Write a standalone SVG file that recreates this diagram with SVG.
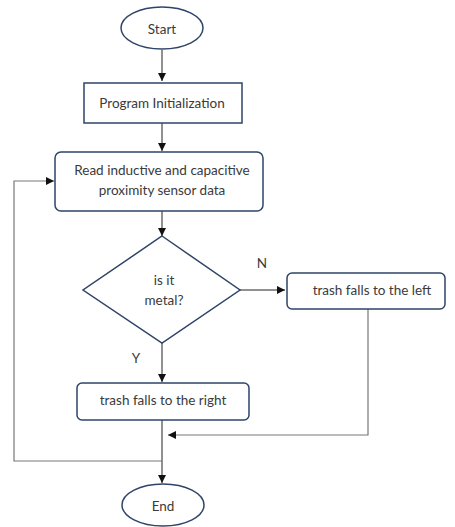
<svg xmlns="http://www.w3.org/2000/svg" width="455" height="527" viewBox="0 0 455 527">
<style>
.shape{fill:#fff;stroke:#2e4468;stroke-width:1.5}
.t{font-family:"Lato","Liberation Sans",sans-serif;font-size:13.5px;fill:#3a3a3a;text-anchor:middle;dominant-baseline:central}
.c{fill:none;stroke:#222;stroke-width:1}
.g{fill:none;stroke:#777;stroke-width:1.2}
</style>
<defs>
<marker id="ah" markerWidth="10" markerHeight="10" refX="9" refY="5" orient="auto" markerUnits="userSpaceOnUse">
<path d="M1,1 L9,5 L1,9 Z" fill="#111"/>
</marker>
</defs>
<g id="connectors">
<line class="c" x1="162" y1="50" x2="162" y2="81" marker-end="url(#ah)"/>
<line class="c" x1="162" y1="123" x2="162" y2="151" marker-end="url(#ah)"/>
<line class="c" x1="162" y1="211" x2="162" y2="236" marker-end="url(#ah)"/>
<line class="c" x1="240" y1="290" x2="285" y2="290" marker-end="url(#ah)"/>
<line class="c" x1="162" y1="343" x2="162" y2="382" marker-end="url(#ah)"/>
<line class="c" x1="162" y1="420" x2="162" y2="483" marker-end="url(#ah)"/>
<polyline class="g" points="368,309 368,435 168,435" marker-end="url(#ah)"/>
<polyline class="g" points="162,461 14,461 14,181 54,181" marker-end="url(#ah)"/>
<text class="t" x="262" y="263">N</text>
<text class="t" x="136" y="358">Y</text>
</g>
<g id="start">
<ellipse class="shape" cx="162" cy="28" rx="41" ry="21"/>
<text class="t" x="162" y="29">Start</text>
</g>
<g id="init">
<rect class="shape" x="84" y="83" width="158" height="40"/>
<text class="t" x="162" y="103">Program Initialization</text>
</g>
<g id="read">
<rect class="shape" x="55" y="152" width="208" height="59" rx="6"/>
<text class="t" x="162" y="170">Read inductive and capacitive</text>
<text class="t" x="162" y="190">proximity sensor data</text>
</g>
<g id="decision">
<polygon class="shape" points="162,236 240,290 162,343 83,290"/>
<text class="t" x="164" y="280">is it</text>
<text class="t" x="164" y="300">metal?</text>
</g>
<g id="left">
<rect class="shape" x="287" y="273" width="158" height="36" rx="5"/>
<text class="t" x="372" y="290">trash falls to the left</text>
</g>
<g id="right">
<rect class="shape" x="77" y="383" width="172" height="37" rx="5"/>
<text class="t" x="163" y="400">trash falls to the right</text>
</g>
<g id="end">
<ellipse class="shape" cx="163" cy="505" rx="41" ry="21"/>
<text class="t" x="163" y="506">End</text>
</g>
</svg>
